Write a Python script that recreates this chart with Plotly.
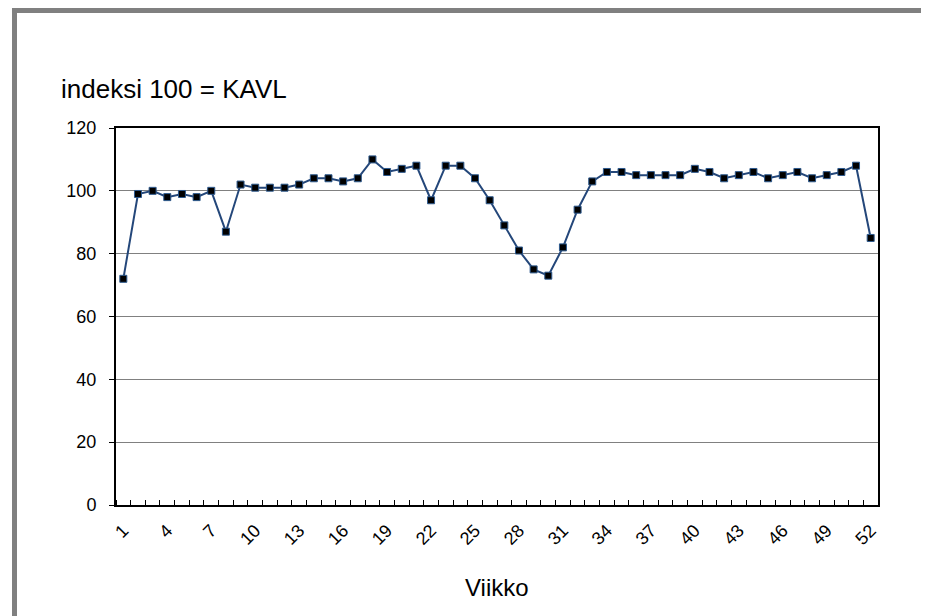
import plotly.graph_objects as go

weeks = list(range(1, 53))
values = [72, 99, 100, 98, 99, 98, 100, 87, 102, 101, 101, 101, 102, 104, 104, 103, 104, 110,
          106, 107, 108, 97, 108, 108, 104, 97, 89, 81, 75, 73, 82, 94, 103, 106, 106, 105,
          105, 105, 105, 107, 106, 104, 105, 106, 104, 105, 106, 104, 105, 106, 108, 85]
x_tick_vals = list(range(1, 53, 3))
y_tick_vals = [0, 20, 40, 60, 80, 100, 120]
title_text = "indeksi 100 = KAVL"
x_title = "Viikko"

font_family = "Liberation Sans, Arial, sans-serif"

fig = go.Figure()
fig.add_trace(go.Scatter(
    x=weeks, y=values, mode="lines+markers",
    line=dict(color="#24477A", width=2),
    marker=dict(symbol="square", size=7, color="#000000",
                line=dict(color="#2E5A8E", width=1)),
    showlegend=False,
))

fig.update_layout(
    width=929, height=616,
    margin=dict(l=108, r=59, t=120, b=119),
    paper_bgcolor="white", plot_bgcolor="white",
    font=dict(family=font_family, color="#000000", size=18),
    xaxis=dict(
        range=[0.5, 52.5], tickmode="array", tickvals=x_tick_vals,
        ticktext=[str(v) for v in x_tick_vals], tickangle=-45,
        showgrid=False, zeroline=False,
        showline=True, linecolor="#000000", linewidth=2, mirror=True,
        ticks="", tickfont=dict(size=18), ticklabelstandoff=6,
        minor=dict(ticks="inside", tickmode="linear", tick0=0.5, dtick=1,
                   ticklen=5, tickcolor="#000000", tickwidth=1, showgrid=False),
    ),
    yaxis=dict(
        range=[0, 120], tickmode="array", tickvals=y_tick_vals,
        showgrid=True, gridcolor="#808080", gridwidth=1, zeroline=False,
        showline=True, linecolor="#000000", linewidth=2, mirror=True,
        ticks="outside", ticklen=5, tickcolor="#000000", tickwidth=1,
        tickfont=dict(size=18), ticklabelstandoff=9,
    ),
    annotations=[
        dict(text=title_text, xref="paper", yref="paper", x=-0.0748, y=1.103,
             xanchor="left", yanchor="middle", showarrow=False,
             font=dict(size=26, family=font_family)),
        dict(text=x_title, xref="paper", yref="paper", x=0.5, y=-0.22,
             xanchor="center", yanchor="middle", showarrow=False,
             font=dict(size=24, family=font_family)),
    ],
)

# outer frame (grey chart-area border)
fig.add_shape(type="line", xref="paper", yref="paper",
              x0=-0.1332, x1=-0.1332, y0=1.318, y1=-0.35,
              line=dict(color="#808080", width=5))
fig.add_shape(type="line", xref="paper", yref="paper",
              x0=-0.1365, x1=1.0775, y0=1.3117, y1=1.3117,
              line=dict(color="#808080", width=5))
fig.add_shape(type="line", xref="paper", yref="paper",
              x0=1.0775, x1=1.0775, y0=1.318, y1=-0.35,
              line=dict(color="#C8C8C8", width=1))

fig.write_html("out.html")
